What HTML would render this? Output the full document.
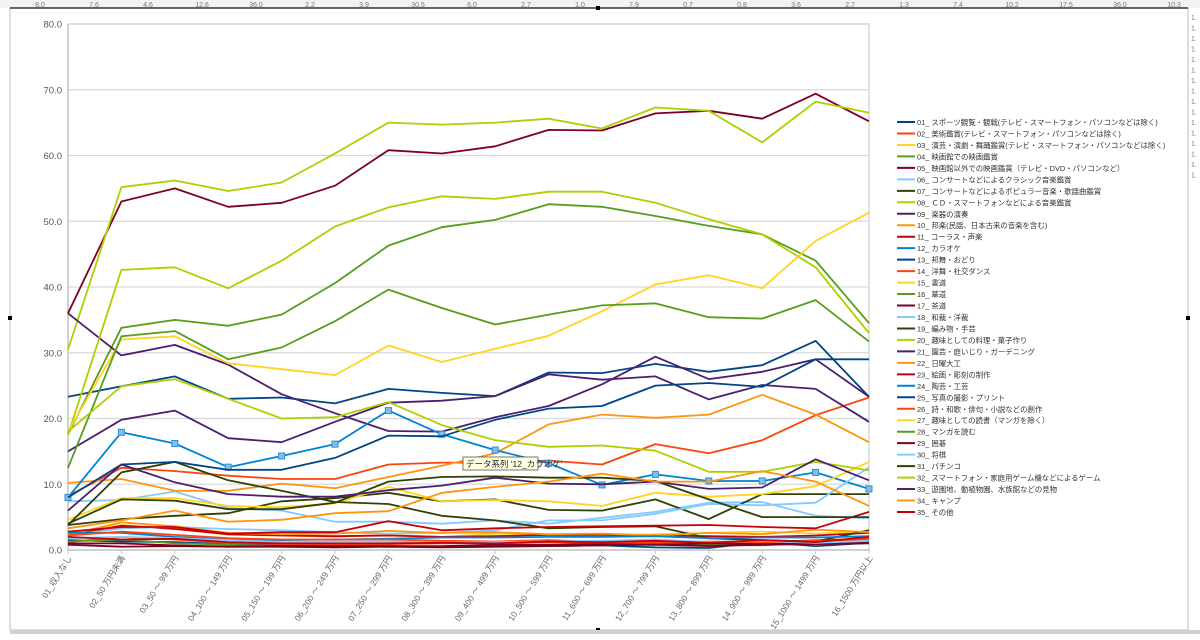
<!DOCTYPE html>
<html><head><meta charset="utf-8">
<style>
html,body{margin:0;padding:0;background:#fff;}
body{width:1200px;height:640px;overflow:hidden;position:relative;font-family:"Liberation Sans","Noto Sans CJK JP",sans-serif;}
svg{position:absolute;left:0;top:0;}
</style></head>
<body>
<svg id="chart" width="1200" height="640" viewBox="0 0 1200 640">
  <rect x="0" y="0" width="1200" height="8" fill="#f2f2f2"/>
  <g id="topnums" font-size="7" fill="#777"></g>
  <rect x="10" y="8" width="1178" height="622" fill="#fff" stroke="#bdbdbd" stroke-width="1"/>
  <line x1="10" y1="8" x2="1188" y2="8" stroke="#333" stroke-width="1.5"/>
  <g id="rightcol" font-size="7" fill="#777"></g>
  <rect x="596" y="6" width="4" height="4" fill="#000"/>
  <rect x="596" y="628" width="4" height="4" fill="#000"/>
  <rect x="8" y="316" width="4" height="4" fill="#000"/>
  <rect x="1186" y="316" width="4" height="4" fill="#000"/>
  <line x1="10" y1="632" x2="1200" y2="632" stroke="#d0d0d0" stroke-width="4"/>
  <g id="grid"></g>
  <g id="yaxis"></g>
  <g id="xaxis"></g>
  <g id="series"></g>
  <g id="legend"></g>
  <g>
    <rect x="463" y="457" width="75" height="13" fill="#ffffe1" stroke="#555" stroke-width="0.8"/>
    <text x="466" y="467" font-size="8.5" fill="#222">データ系列 '12_カラオケ'</text>
  </g>
</svg>
<script>
const categories = ["01_収入なし","02_50 万円未満","03_50 ～ 99 万円","04_100 ～ 149 万円","05_150 ～ 199 万円","06_200 ～ 249 万円","07_250 ～ 299 万円","08_300 ～ 399 万円","09_400 ～ 499 万円","10_500 ～ 599 万円","11_600 ～ 699 万円","12_700 ～ 799 万円","13_800 ～ 899 万円","14_900 ～ 999 万円","15_1000 ～ 1499 万円","16_1500 万円以上"];
const seriesNames = ["01_ スポーツ観覧・観戦(テレビ・スマートフォン・パソコンなどは除く)","02_ 美術鑑賞(テレビ・スマートフォン・パソコンなどは除く)","03_ 演芸・演劇・舞踊鑑賞(テレビ・スマートフォン・パソコンなどは除く)","04_ 映画館での映画鑑賞","05_ 映画館以外での映画鑑賞（テレビ・DVD・パソコンなど）","06_ コンサートなどによるクラシック音楽鑑賞","07_ コンサートなどによるポピュラー音楽・歌謡曲鑑賞","08_ ＣＤ・スマートフォンなどによる音楽鑑賞","09_ 楽器の演奏","10_ 邦楽(民謡、日本古来の音楽を含む)","11_ コーラス・声楽","12_ カラオケ","13_ 邦舞・おどり","14_ 洋舞・社交ダンス","15_ 書道","16_ 華道","17_ 茶道","18_ 和裁・洋裁","19_ 編み物・手芸","20_ 趣味としての料理・菓子作り","21_ 園芸・庭いじり・ガーデニング","22_ 日曜大工","23_ 絵画・彫刻の制作","24_ 陶芸・工芸","25_ 写真の撮影・プリント","26_ 詩・和歌・俳句・小説などの創作","27_ 趣味としての読書（マンガを除く）","28_ マンガを読む","29_ 囲碁","30_ 将棋","31_ パチンコ","32_ スマートフォン・家庭用ゲーム機などによるゲーム","33_ 遊園地、動植物園、水族館などの見物","34_ キャンプ","35_ その他"];
const s01 = [23.3,24.9,26.4,23,23.2,22.3,24.5,23.9,23.4,27,26.9,28.3,27.1,28.1,31.8,23.3];
const s02 = [8.2,12.5,12,11.3,10.8,10.8,13,13.3,13.3,13.6,13,16.1,14.7,16.7,20.5,23.2];
const s03 = [2.5,3.8,3.3,2.3,2.2,2,2.3,2,2.5,2.3,2.2,2.4,2.6,2.8,2.5,2.8];
const s04 = [17.6,33.8,35,34.1,35.8,40.6,46.3,49.1,50.2,52.6,52.2,50.8,49.3,48,44,34.5];
const s05 = [36,53,55,52.2,52.8,55.4,60.8,60.3,61.4,63.9,63.8,66.4,66.8,65.6,69.4,65.2];
const s06 = [7.4,7.6,8.9,6.4,6,4.3,4.3,4,4.5,4,4.9,5.8,7.2,7.3,5.2,4.8];
const s07 = [3.8,4.7,5.2,5.6,7.4,7.9,8.7,7.4,7.7,6.1,6,7.7,4.7,8.5,8.5,8.5];
const s08 = [30.5,55.2,56.2,54.6,55.9,60.3,65,64.7,65,65.6,64.1,67.3,66.8,62,68.2,66.5];
const s09 = [36,29.6,31.2,28.2,23.7,20.8,18.1,18,20.2,21.9,25.2,29.4,26,27.1,29,23.3];
const s10 = [10.2,10.8,9,9,10.1,9.4,11.1,12.8,14.7,19.1,20.6,20.1,20.6,23.6,20.6,16.4];
const s11 = [2.2,3.7,3.2,2.4,2.2,2.1,2.2,2,2.1,2.3,2.3,2.2,2.1,2,2.2,2.6];
const s12 = [8,17.9,16.2,12.6,14.3,16.1,21.2,17.6,15.2,13.2,9.9,11.5,10.5,10.5,11.8,9.3];
const s13 = [1.5,1.3,1.2,0.9,0.7,0.6,0.6,0.5,0.7,0.6,0.7,0.4,0.3,1.2,0.6,1.1];
const s14 = [1.2,2,1.6,1.1,0.9,0.8,0.9,1,1.1,1.2,1,1.1,1.3,1.2,1.5,1.7];
const s15 = [4.6,7.9,7.9,6.7,6.5,7.1,9.6,7.4,7.6,7.4,6.7,8.7,8.1,8.5,9.7,13.4];
const s16 = [1.3,1.6,1,0.8,0.5,0.5,0.6,0.5,0.6,0.6,0.7,0.9,0.8,0.7,1.1,1.4];
const s17 = [1,1,0.7,0.5,0.5,0.4,0.5,0.4,0.5,0.6,0.7,0.8,0.6,0.8,0.9,1];
const s18 = [2.2,3.3,3.5,3.2,3,2.7,2.5,2.6,3,4.5,4.5,5.5,7,6.8,7.2,12.6];
const s19 = [3.8,11.8,13.4,10.6,9,7.3,7,5.2,4.5,3.3,3.5,3.6,1.8,1.5,1.3,3];
const s20 = [17.5,42.6,43,39.8,44,49.2,52.1,53.8,53.4,54.5,54.5,52.8,50.3,48,43,33];
const s21 = [15,19.8,21.2,17,16.4,19.5,22.4,22.7,23.4,26.7,25.9,26.4,22.9,25.1,24.5,19.5];
const s22 = [2.3,4.2,3.6,2.6,2.4,2.5,2.9,2.6,2.7,2.4,2.5,2.2,2.6,2.4,3.1,2.7];
const s23 = [2.8,3.5,3.5,2.5,2.7,2.7,4.4,3,3.3,3.5,3.6,3.7,3.8,3.5,3.3,5.8];
const s24 = [2.6,2.6,2,1.6,1.5,1.6,1.7,1.9,1.9,2,2,2.1,1.8,1.9,1.9,2.1];
const s25 = [8,13,13.4,12.2,12.2,14,17.4,17.3,19.8,21.5,21.9,25,25.4,24.8,29,29];
const s26 = [2.2,2.8,2.3,1.8,1.6,1.6,1.6,1.4,1.3,1.5,1.2,1.3,1.1,1.1,1.4,1.5];
const s27 = [18,32,32.5,28.4,27.5,26.6,31.1,28.6,30.6,32.6,36.3,40.4,41.8,39.8,47,51.3];
const s28 = [12.5,32.5,33.3,29,30.8,34.8,39.6,36.8,34.3,35.8,37.2,37.5,35.4,35.2,38,31.7];
const s29 = [0.8,0.5,0.6,0.5,0.6,0.6,0.6,0.6,0.8,0.8,0.9,0.8,1,0.9,1,1.3];
const s30 = [1.8,2,1.8,1.5,1.2,1.3,1.3,1.1,1.2,1.3,1.4,1.6,1.2,1.4,1.1,1.4];
const s31 = [4,7.7,7.5,6.2,6.2,7.2,10.4,11.1,11.2,11,11,10.5,7.7,5,5,5];
const s32 = [18,24.9,26,23,20,20.2,22.5,19,16.7,15.7,15.9,15.1,11.9,11.9,13.4,12.1];
const s33 = [6,13,10.3,8.5,8.1,8.1,9.1,9.8,11,10.1,10,10.4,9.3,9.5,13.8,10.6];
const s34 = [3.3,4.5,6,4.3,4.6,5.6,5.9,8.7,9.6,10.4,11.6,10.4,10.4,12,10.4,6.7];
const s35 = [2,1.6,1.7,1.2,1,1,1,1.1,1,1.3,1.2,1.4,1.1,1.5,1.2,2];
const yTicks = ["0.0","10.0","20.0","30.0","40.0","50.0","60.0","70.0","80.0"];
const topValues = ["8.0","7.6","4.6","12.6","36.0","2.2","3.9","30.5","6.0","2.7","1.0","7.9","0.7","0.8","3.6","2.7","1.3","7.4","10.2","17.5","36.0","10.3","2.2"];

const allSeries = [s01,s02,s03,s04,s05,s06,s07,s08,s09,s10,s11,s12,s13,s14,s15,s16,s17,s18,s19,s20,s21,s22,s23,s24,s25,s26,s27,s28,s29,s30,s31,s32,s33,s34,s35];
const palette = ["#004586","#ff420e","#ffd320","#579d1c","#7e0021","#83caff","#314004","#aecf00","#4b1f6f","#ff950e","#c5000b","#0084d1"];
const NS = "http://www.w3.org/2000/svg";
const X0 = 68, X1 = 869, Y0 = 550, Y1 = 24, YMAX = 80;
function xScale(i){ return X0 + i*(X1-X0)/(categories.length-1); }
function yScale(v){ return Y0 - v*(Y0-Y1)/YMAX; }
function mk(tag, attrs, parent){ const e=document.createElementNS(NS,tag); for(const k in attrs) e.setAttribute(k,attrs[k]); parent.appendChild(e); return e; }

const topG = document.getElementById('topnums');
topValues.forEach((t,i)=>{
  const e = mk('text',{x:40+i*54,y:7,'text-anchor':'middle'},topG);
  
  
  e.textContent=t;
});
const rc = document.getElementById('rightcol');
for(let i=0;i<16;i++){
  const e = mk('text',{x:1191,y:20+i*10.5},rc);
  
  
  e.textContent='1.';
}

const grid=document.getElementById('grid'), yax=document.getElementById('yaxis'), xax=document.getElementById('xaxis');
mk('rect',{x:X0,y:Y1,width:X1-X0,height:Y0-Y1,fill:'none',stroke:'#d9d9d9','stroke-width':1.5},grid);
yTicks.forEach(t=>{
  const v=parseFloat(t), y=yScale(v);
  const gl = mk('line',{x1:X0,y1:y,x2:X1,y2:y,stroke:'#d9d9d9','stroke-width':1.2},grid);
  
  
  const tx = mk('text',{x:X0-6,y:y+3.5,'text-anchor':'end','font-size':9.5,fill:'#555'},yax);
  
  
  tx.textContent=t;
});
mk('line',{x1:X0,y1:Y1,x2:X0,y2:Y0,stroke:'#c8c8c8','stroke-width':1.5},yax);
mk('line',{x1:X0,y1:Y0,x2:X1,y2:Y0,stroke:'#c8c8c8','stroke-width':1.5},xax);
categories.forEach((c,i)=>{
  const x=xScale(i);
  mk('line',{x1:x,y1:Y0,x2:x,y2:Y0+4,stroke:'#c8c8c8'},xax);
  const t = mk('text',{x:x+4,y:Y0+8,'text-anchor':'end','font-size':8.5,fill:'#666',transform:`rotate(-58 ${x+4} ${Y0+8})`},xax);
  
  
  t.textContent=c;
});

const sg=document.getElementById('series');
allSeries.forEach((arr,si)=>{
  const col=palette[si%12];
  const pts=arr.map((v,i)=>xScale(i).toFixed(1)+','+yScale(v).toFixed(1)).join(' ');
  const pl = mk('polyline',{points:pts,fill:'none',stroke:col,'stroke-width':1.8,'stroke-linejoin':'round'},sg);
  
  
  if(si===11){
    arr.forEach((v,i)=>{
      const m = mk('rect',{x:xScale(i)-3,y:yScale(v)-3,width:6,height:6,fill:'#7fbfea',stroke:'#2b8fd6','stroke-width':1},sg);
      
      
    });
  }
});

const lg=document.getElementById('legend');
seriesNames.forEach((n,i)=>{
  const y=122+i*11.47;
  const g = mk('g',{},lg);
  
  
  mk('line',{x1:897,y1:y,x2:915,y2:y,stroke:palette[i%12],'stroke-width':2},g);
  const t = mk('text',{x:917,y:y+3,'font-size':7.4,fill:'#333'},g);
  t.textContent=n;
});
</script>
</body></html>
